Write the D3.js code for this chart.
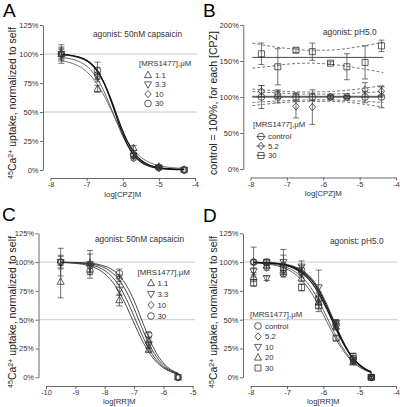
<!DOCTYPE html>
<html><head><meta charset="utf-8">
<script src="https://cdn.jsdelivr.net/npm/d3@7"></script>
<style>body{margin:0;background:#fff}svg{display:block}</style>
</head><body><svg id="c" width="400" height="407"></svg>
<script>
const FONT = "Liberation Sans, Arial, Helvetica, sans-serif";

// ---------- Panel A : CPZ, agonist 50nM capsaicin ----------
const A_X = [-7.7, -6.7, -5.7, -5.0, -4.3];
const A_tri = [100, 70, 19, 3, 0.3];   const A_tri_err = [5, 3, 2, 1, 0];
const A_inv = [100, 80, 12, 2, 0.2];   const A_inv_err = [8, 4, 2, 1, 0];
const A_dia = [100, 83, 10, 2, 0];     const A_dia_err = [6, 5, 1.5, 1, 0];
const A_cir = [100, 86, 13, 2, 0];     const A_cir_err = [4, 7, 2, 1, 0];
const A_curveX = [-7.7,-7.4,-7.1,-6.9,-6.7,-6.5,-6.35,-6.2,-6.05,-5.9,-5.7,-5.5,-5.25,-5.0,-4.65,-4.3];
const A_fit_tri = [94.2,92.0,87.3,81.8,73.8,63.1,53.7,43.9,34.5,26.1,17.3,11.1,6.4,3.8,2.1,1.4];
const A_fit_inv = [97.0,95.5,91.7,86.7,78.5,66.5,55.4,43.7,32.5,23.0,13.7,7.8,3.8,1.9,0.8,0.5];
const A_fit_dia = [99.6,98.7,96.3,92.5,85.5,73.8,61.9,48.3,35.0,23.8,13.1,6.9,3.0,1.4,0.6,0.4];
const A_fit_cir = [99.4,98.4,95.7,91.9,85.0,74.0,62.9,50.3,37.6,26.6,15.5,8.6,4.1,2.1,1.0,0.6];
const A_legend = ["1.1", "3.3", "10", "30"];

// ---------- Panel B : CPZ, agonist pH5.0 ----------
const B_X = [-7.7, -7.25, -6.75, -6.3, -5.8, -5.35, -4.85, -4.4];
const B_ctrl = [100, 100, 100, 100, 100, 100, 100, 100]; const B_ctrl_err = [16, 8, 6, 5, 2, 2, 8, 15];
const B_52 = [108, 104, 87, 86, 100, 100, 110, 108];     const B_52_err = [8, 6, 16, 24, 3, 2, 10, 6];
const B_30 = [160, 142, 165, 163, 147, 142, 148, 171];   const B_30_err = [15, 25, 3, 12, 2, 18, 23, 8];
const B_lineX = [-7.95, -7.4, -6.9, -6.4, -5.9, -5.4, -4.9, -4.35];
const B_fit_ctrl = [100, 100, 100, 100, 100, 100, 100, 100];
const B_ci_ctrl_hi = [107.5, 106, 104.8, 104, 104, 104.8, 106, 107.5];
const B_ci_ctrl_lo = [92.5, 94, 95.2, 96, 96, 95.2, 94, 92.5];
const B_fit_52 = [101, 101, 101, 101, 101, 101, 101, 101];
const B_ci_52_hi = [111, 109, 107.5, 107, 107.5, 109, 112, 116];
const B_ci_52_lo = [88, 91, 93, 94, 94, 93, 90, 86];
const B_fit_30 = [155, 155, 155, 155, 155, 155, 155, 155];
const B_ci_30_hi = [175, 170, 167, 165, 165, 167, 171, 176];
const B_ci_30_lo = [140, 143, 146, 147, 146, 143, 139, 134];
const B_legend = ["control", "5.2", "30"];

// ---------- Panel C : RR, agonist 50nM capsaicin ----------
const C_X = [-9.5, -8.5, -7.5, -6.5, -5.5];
const C_tri = [83, 99, 67, 24, 0];   const C_tri_err = [14, 8, 5, 2, 0.5];
const C_inv = [100, 98, 76, 28, 0];  const C_inv_err = [6, 12, 5, 3, 0.5];
const C_dia = [100, 96, 86, 31, 0];  const C_dia_err = [5, 4, 3, 3, 0.5];
const C_cir = [100, 92, 90, 37, 0];  const C_cir_err = [12, 3, 4, 2, 0.5];
const C_curveX = [-9.5,-9,-8.5,-8.1,-7.8,-7.5,-7.25,-7,-6.75,-6.5,-6.25,-6,-5.75,-5.5];
const C_fit_tri = [99.6,98.9,96.6,91.8,84.9,73.8,61.3,47.1,33.4,22.0,13.7,8.2,4.8,2.7];
const C_fit_inv = [99.8,99.3,97.7,94.2,88.6,79.1,67.4,53.0,38.1,25.2,15.5,9.1,5.2,2.9];
const C_fit_dia = [99.9,99.6,98.5,96.1,91.9,84.2,73.9,60.0,44.3,29.7,18.3,10.6,5.9,3.2];
const C_fit_cir = [99.9,99.7,99.1,97.3,94.3,88.2,79.4,66.6,50.7,34.6,21.5,12.4,6.8,3.6];
const C_legend = ["1.1", "3.3", "10", "30"];

// ---------- Panel D : RR, agonist pH5.0 ----------
const D_X = [-7.92, -7.56, -7.1, -6.6, -6.13, -5.65, -5.18, -4.68];
const D_cir = [100, 100, 90, 93, 68, 46, 16, 0]; const D_cir_err = [13, 1, 3, 4, 5, 4, 3, 1];
const D_dia = [100, 95, 93, 91, 70, 45, 14, 0];  const D_dia_err = [2, 2, 4, 4, 4, 3, 2, 1];
const D_inv = [92, 86, 100, 96, 78, 47, 15, 0];  const D_inv_err = [3, 2, 11, 5, 15, 3, 2, 1];
const D_tri = [87, 97, 98, 86, 65, 44, 13, 0];   const D_tri_err = [4, 2, 8, 3, 5, 3, 2, 1];
const D_sq = [82, 100, 95, 78, 62, 34, 18, 0];   const D_sq_err = [3, 2, 4, 3, 5, 2, 3, 1];
const D_curveX = [-7.92,-7.6,-7.3,-7.0,-6.75,-6.5,-6.3,-6.1,-5.9,-5.7,-5.5,-5.3,-5.1,-4.9,-4.68];
const D_fit_cir = [99.8,99.5,98.9,97.4,94.8,89.9,83.4,73.8,61.3,47.1,33.4,22.0,13.7,8.2,4.5];
const D_fit_dia = [99.7,99.4,98.6,96.8,93.7,88.3,81.2,71.3,58.9,45.2,32.2,21.4,13.6,8.3,4.7];
const D_fit_inv = [99.9,99.6,99.1,97.9,95.6,91.2,85.0,75.7,63.2,48.5,34.1,22.1,13.5,7.9,4.3];
const D_fit_tri = [99.6,99.0,97.8,95.2,91.1,84.1,75.8,64.8,52.0,38.9,27.3,18.1,11.5,7.1,4.1];
const D_fit_sq = [99.4,98.6,97.0,93.8,88.9,80.9,71.9,60.6,48.1,35.8,25.2,16.9,10.9,6.9,4.0];
const D_legend = ["control", "5.2", "10", "20", "30"];

const pctTicks125 = [0, 25, 50, 75, 100, 125];
const pctTicks200 = [0, 50, 100, 150, 200];
const cpzTicks = [-8, -7, -6, -5, -4];
const rrTicksC = [-10, -9, -8, -7, -6, -5];
const rrTicksD = [-8, -7, -6, -5, -4];

// ---------------------------------------------------------------
const svg = d3.select("#c");
svg.append("rect").attr("width", 400).attr("height", 407).attr("fill", "#fff");

const MARK = "#2a2a2a";

function symPath(t, s) {
  const h = s / 2;
  switch (t) {
    case "cir": return d3.symbol(d3.symbolCircle, Math.PI * h * h * 0.92)();
    case "sq": { const a = h * 0.86; return `M${-a},${-a}H${a}V${a}H${-a}Z`; }
    case "dia": return `M0,${-h * 1.05}L${h * 0.9},0L0,${h * 1.05}L${-h * 0.9},0Z`;
    case "tri": return `M0,${-h * 1.1}L${h},${h * 0.75}L${-h},${h * 0.75}Z`;
    case "inv": return `M0,${h * 1.1}L${h},${-h * 0.75}L${-h},${-h * 0.75}Z`;
  }
}

function zip(a, b) { return a.map((v, i) => [v, b[i]]); }

function panel(o) {
  const g = svg.append("g");
  const x = d3.scaleLinear().domain(o.xd).range(o.xr);
  const y = d3.scaleLinear().domain(o.yd).range(o.yr);

  (o.grid || []).forEach(v => {
    g.append("line").attr("x1", o.yAxisX).attr("x2", o.gridEnd)
      .attr("y1", y(v)).attr("y2", y(v)).attr("stroke", "#c4c4c4").attr("stroke-width", 0.9);
  });

  const yg = g.append("g").attr("transform", `translate(${o.yAxisX},0)`)
    .call(d3.axisLeft(y).tickValues(o.yTicks).tickSize(3).tickSizeOuter(0).tickFormat(d => d + "%"));
  const xg = g.append("g").attr("transform", `translate(0,${o.xAxisY})`)
    .call(d3.axisBottom(x).tickValues(o.xTicks).tickSize(3).tickSizeOuter(0).tickFormat(d => String(d)));
  [yg, xg].forEach(a => {
    a.attr("font-family", FONT).attr("font-size", 7.5);
    a.selectAll("path,line").attr("stroke", "#444").attr("stroke-width", 0.8);
    a.selectAll("text").attr("fill", "#333");
  });
  yg.selectAll("text").attr("x", -4.5);
  xg.selectAll("text").attr("y", 4);

  // axis titles
  g.append("text").attr("x", (o.xr[0] + o.xr[1]) / 2).attr("y", o.xTitleY)
    .attr("text-anchor", "middle").attr("font-family", FONT).attr("font-size", 7.8)
    .attr("fill", "#333").text(o.xTitle);

  const yt = g.append("text").attr("transform", `translate(${o.yTitleX},${o.yTitleY}) rotate(-90)`)
    .attr("text-anchor", "middle").attr("font-family", FONT).attr("font-size", 10.5).attr("fill", "#1a1a1a");
  if (o.yTitleCa) {
    yt.append("tspan").attr("font-size", 7).attr("dy", -3.5).text("45");
    yt.append("tspan").attr("font-size", 10.5).attr("dy", 3.5).text("Ca");
    yt.append("tspan").attr("font-size", 7).attr("dy", -3.5).text("2+");
    yt.append("tspan").attr("font-size", 10.5).attr("dy", 3.5).text(" uptake, normalized to self");
  } else {
    yt.text(o.yTitle);
  }

  // panel letter + annotation
  svg.append("text").attr("x", o.letterX).attr("y", o.letterY).attr("font-family", FONT)
    .attr("font-size", 19).attr("fill", "#000").text(o.letter);
  g.append("text").attr("x", o.noteX).attr("y", o.noteY).attr("font-family", FONT)
    .attr("font-size", 8.3).attr("fill", "#333").text(o.note);

  // extra lines (B)
  (o.lines || []).forEach(L => {
    g.append("path").datum(zip(L.x, L.y))
      .attr("d", d3.line().x(d => x(d[0])).y(d => y(d[1])).curve(d3.curveMonotoneX))
      .attr("fill", "none").attr("stroke", L.color).attr("stroke-width", L.w)
      .attr("stroke-dasharray", L.dash || null);
  });

  // fitted curves
  (o.fits || []).forEach(F => {
    g.append("path").datum(zip(o.curveX, F.y))
      .attr("d", d3.line().x(d => x(d[0])).y(d => y(d[1])).curve(d3.curveMonotoneX))
      .attr("fill", "none").attr("stroke", F.color).attr("stroke-width", F.w);
  });

  // error bars + markers
  o.series.forEach(S => {
    const pts = o.X.map((xv, i) => ({ x: xv, v: S.v[i], e: S.e[i] }));
    const eb = g.append("g").attr("stroke", "#3a3a3a").attr("stroke-width", 0.7);
    pts.filter(p => p.e > 0.6).forEach(p => {
      const px = x(p.x);
      eb.append("line").attr("x1", px).attr("x2", px).attr("y1", y(p.v - p.e)).attr("y2", y(p.v + p.e));
      eb.append("line").attr("x1", px - 3).attr("x2", px + 3).attr("y1", y(p.v + p.e)).attr("y2", y(p.v + p.e));
      eb.append("line").attr("x1", px - 3).attr("x2", px + 3).attr("y1", y(p.v - p.e)).attr("y2", y(p.v - p.e));
    });
    g.selectAll(null).data(pts).enter().append("path")
      .attr("d", symPath(S.sym, 7))
      .attr("transform", d => `translate(${x(d.x)},${y(d.v)})`)
      .attr("fill", "none").attr("stroke", MARK).attr("stroke-width", 0.75);
  });

  // legend
  const L = o.legend;
  g.append("text").attr("x", L.hx).attr("y", L.hy).attr("font-family", FONT)
    .attr("font-size", 7.8).attr("fill", "#333").text("[MRS1477],\u03bcM");
  L.labels.forEach((lab, i) => {
    const yy = L.ys[i];
    if (L.strike) {
      g.append("line").attr("x1", L.sx - 4.5).attr("x2", L.sx + 4.5).attr("y1", yy).attr("y2", yy)
        .attr("stroke", "#333").attr("stroke-width", 0.75);
    }
    g.append("path").attr("d", symPath(L.syms[i], 7)).attr("transform", `translate(${L.sx},${yy})`)
      .attr("fill", "none").attr("stroke", MARK).attr("stroke-width", 0.75);
    g.append("text").attr("x", L.tx).attr("y", yy + 2.8).attr("font-family", FONT)
      .attr("font-size", 7.8).attr("fill", "#333").text(lab);
  });
}

// ---------- A ----------
panel({
  letter: "A", letterX: 3, letterY: 17,
  xd: [-8, -4], xr: [50.5, 195], yd: [0, 125], yr: [170, 25],
  yAxisX: 43, xAxisY: 178, yTicks: pctTicks125, xTicks: cpzTicks,
  grid: [50, 100], gridEnd: 197,
  xTitle: "log[CPZ]M", xTitleY: 196.5,
  yTitleCa: true, yTitleX: 16, yTitleY: 103,
  note: "agonist: 50nM capsaicin", noteX: 93, noteY: 37,
  curveX: A_curveX,
  fits: [
    { y: A_fit_tri, color: "#666", w: 0.9 },
    { y: A_fit_inv, color: "#555", w: 0.9 },
    { y: A_fit_dia, color: "#111", w: 1.2 },
    { y: A_fit_cir, color: "#111", w: 1.2 }
  ],
  X: A_X,
  series: [
    { v: A_tri, e: A_tri_err, sym: "tri" },
    { v: A_inv, e: A_inv_err, sym: "inv" },
    { v: A_dia, e: A_dia_err, sym: "dia" },
    { v: A_cir, e: A_cir_err, sym: "cir" }
  ],
  legend: { hx: 139, hy: 66, sx: 148, tx: 155, ys: [75, 84.5, 94, 103.5],
            labels: A_legend, syms: ["tri", "inv", "dia", "cir"] }
});

// ---------- B ----------
panel({
  letter: "B", letterX: 203, letterY: 17,
  xd: [-8, -4], xr: [250.5, 396], yd: [0, 200], yr: [169, 25],
  yAxisX: 243.3, xAxisY: 177.5, yTicks: pctTicks200, xTicks: cpzTicks,
  grid: [], gridEnd: 0,
  xTitle: "log[CPZ]M", xTitleY: 196,
  yTitle: "control = 100%, for each [CPZ]", yTitleX: 217, yTitleY: 103,
  note: "agonist: pH5.0", noteX: 323, noteY: 35,
  lines: [
    { x: B_lineX, y: B_ci_30_hi, color: "#555", w: 0.8, dash: "3,2" },
    { x: B_lineX, y: B_ci_30_lo, color: "#555", w: 0.8, dash: "3,2" },
    { x: B_lineX, y: B_ci_52_hi, color: "#555", w: 0.8, dash: "3,2" },
    { x: B_lineX, y: B_ci_52_lo, color: "#555", w: 0.8, dash: "3,2" },
    { x: B_lineX, y: B_ci_ctrl_hi, color: "#555", w: 0.8, dash: "3,2" },
    { x: B_lineX, y: B_ci_ctrl_lo, color: "#555", w: 0.8, dash: "3,2" },
    { x: B_lineX, y: B_fit_30, color: "#333", w: 0.9 },
    { x: B_lineX, y: B_fit_52, color: "#777", w: 1.0 },
    { x: B_lineX, y: B_fit_ctrl, color: "#222", w: 1.1 }
  ],
  curveX: [], fits: [],
  X: B_X,
  series: [
    { v: B_ctrl, e: B_ctrl_err, sym: "cir" },
    { v: B_52, e: B_52_err, sym: "dia" },
    { v: B_30, e: B_30_err, sym: "sq" }
  ],
  legend: { hx: 253, hy: 127, sx: 261, tx: 268, ys: [136.5, 146, 155.5], strike: true,
            labels: B_legend, syms: ["cir", "dia", "sq"] }
});

// ---------- C ----------
panel({
  letter: "C", letterX: 2, letterY: 221,
  xd: [-10, -5], xr: [46, 192.7], yd: [0, 125], yr: [377.3, 233.3],
  yAxisX: 38.5, xAxisY: 386, yTicks: pctTicks125, xTicks: rrTicksC,
  grid: [50, 100], gridEnd: 195,
  xTitle: "log[RR]M", xTitleY: 404,
  yTitleCa: true, yTitleX: 16, yTitleY: 312,
  note: "agonist: 50nM capsaicin", noteX: 95, noteY: 242,
  curveX: C_curveX,
  fits: [
    { y: C_fit_tri, color: "#333", w: 0.9 },
    { y: C_fit_inv, color: "#333", w: 0.9 },
    { y: C_fit_dia, color: "#333", w: 0.9 },
    { y: C_fit_cir, color: "#333", w: 0.9 }
  ],
  X: C_X,
  series: [
    { v: C_tri, e: C_tri_err, sym: "tri" },
    { v: C_inv, e: C_inv_err, sym: "inv" },
    { v: C_dia, e: C_dia_err, sym: "dia" },
    { v: C_cir, e: C_cir_err, sym: "cir" }
  ],
  legend: { hx: 137.5, hy: 275, sx: 151, tx: 157.5, ys: [283, 294, 305, 316],
            labels: C_legend, syms: ["tri", "inv", "dia", "cir"] }
});

// ---------- D ----------
panel({
  letter: "D", letterX: 203, letterY: 222,
  xd: [-8, -4], xr: [250.7, 396], yd: [0, 125], yr: [377.3, 233.3],
  yAxisX: 243, xAxisY: 386, yTicks: pctTicks125, xTicks: rrTicksD,
  grid: [50, 100], gridEnd: 398,
  xTitle: "log[RR]M", xTitleY: 404,
  yTitleCa: true, yTitleX: 217, yTitleY: 312,
  note: "agonist: pH5.0", noteX: 330, noteY: 244,
  curveX: D_curveX,
  fits: [
    { y: D_fit_sq, color: "#555", w: 0.9 },
    { y: D_fit_tri, color: "#555", w: 0.9 },
    { y: D_fit_inv, color: "#444", w: 0.9 },
    { y: D_fit_dia, color: "#111", w: 1.2 },
    { y: D_fit_cir, color: "#111", w: 1.2 }
  ],
  X: D_X,
  series: [
    { v: D_cir, e: D_cir_err, sym: "cir" },
    { v: D_dia, e: D_dia_err, sym: "dia" },
    { v: D_inv, e: D_inv_err, sym: "inv" },
    { v: D_tri, e: D_tri_err, sym: "tri" },
    { v: D_sq, e: D_sq_err, sym: "sq" }
  ],
  legend: { hx: 250, hy: 316.5, sx: 258, tx: 265, ys: [326, 336.5, 347, 357.5, 368],
            labels: D_legend, syms: ["cir", "dia", "inv", "tri", "sq"] }
});
</script>
</body></html>
